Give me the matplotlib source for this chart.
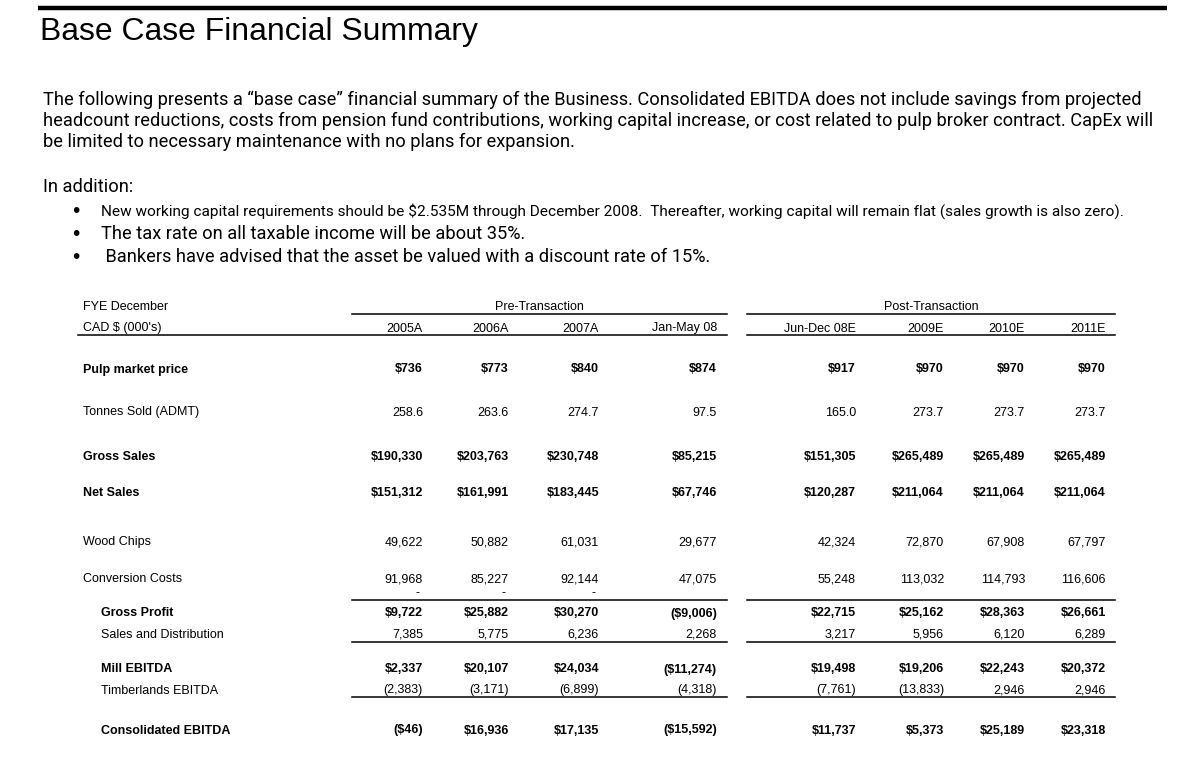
import matplotlib
matplotlib.use("Agg")
import matplotlib.pyplot as plt

# ---------------- data ----------------
title = "Base Case Financial Summary"
para_lines = [
    "The following presents a \u201cbase case\u201d financial summary of the Business. Consolidated EBITDA does not include savings from projected",
    "headcount reductions, costs from pension fund contributions, working capital increase, or cost related to pulp broker contract. CapEx will",
    "be limited to necessary maintenance with no plans for expansion.",
]
intro = "In addition:"
bullets = [
    "New working capital requirements should be $2.535M through December 2008.  Thereafter, working capital will remain flat (sales growth is also zero).",
    "The tax rate on all taxable income will be about 35%.",
    " Bankers have advised that the asset be valued with a discount rate of 15%.",
]
header_left = ["FYE December", "CAD $ (000's)"]
groups = ["Pre-Transaction", "Post-Transaction"]
columns = ["2005A", "2006A", "2007A", "Jan-May 08", "Jun-Dec 08E", "2009E", "2010E", "2011E"]

pulp_price = [736, 773, 840, 874, 917, 970, 970, 970]
tonnes = [258.6, 263.6, 274.7, 97.5, 165.0, 273.7, 273.7, 273.7]
gross_sales = [190330, 203763, 230748, 85215, 151305, 265489, 265489, 265489]
net_sales = [151312, 161991, 183445, 67746, 120287, 211064, 211064, 211064]
wood_chips = [49622, 50882, 61031, 29677, 42324, 72870, 67908, 67797]
conversion = [91968, 85227, 92144, 47075, 55248, 113032, 114793, 116606]
zero_marks = ["-", "-", "-", "", "", "", "", ""]
gross_profit = [9722, 25882, 30270, -9006, 22715, 25162, 28363, 26661]
sales_dist = [7385, 5775, 6236, 2268, 3217, 5956, 6120, 6289]
mill_ebitda = [2337, 20107, 24034, -11274, 19498, 19206, 22243, 20372]
timber_ebitda = [-2383, -3171, -6899, -4318, -7761, -13833, 2946, 2946]
consol_ebitda = [-46, 16936, 17135, -15592, 11737, 5373, 25189, 23318]


def cur(v):
    return f"(${-v:,.0f})" if v < 0 else f"${v:,.0f}"


def num(v):
    return f"({-v:,.0f})" if v < 0 else f"{v:,.0f}"


def dec(v):
    return f"{v:.1f}"


# (label, values, formatter, bold, indent, baseline y)
rows = [
    ("Pulp market price", pulp_price, cur, True, False, 372.5),
    ("Tonnes Sold (ADMT)", tonnes, dec, False, False, 415.5),
    ("Gross Sales", gross_sales, cur, True, False, 459.5),
    ("Net Sales", net_sales, cur, True, False, 495.5),
    ("Wood Chips", wood_chips, num, False, False, 545.5),
    ("Conversion Costs", conversion, num, False, False, 582.5),
    ("Gross Profit", gross_profit, cur, True, True, 616.5),
    ("Sales and Distribution", sales_dist, num, False, True, 637.5),
    ("Mill EBITDA", mill_ebitda, cur, True, True, 672.5),
    ("Timberlands EBITDA", timber_ebitda, num, False, True, 693.5),
    ("Consolidated EBITDA", consol_ebitda, cur, True, True, 733.5),
]

# ---------------- layout ----------------
col_right = [423, 509, 599, 717, 856, 944, 1025, 1106]
pre_span = (352, 727)
post_span = (747, 1115)

fig = plt.figure(figsize=(11.9, 7.6), dpi=100)
ax = fig.add_axes([0, 0, 1, 1])
ax.set_xlim(0, 1190)
ax.set_ylim(760, 0)
ax.axis("off")
renderer = fig.canvas.get_renderer()

BODY = ["Roboto", "DejaVu Sans"]
TAB = ["Liberation Sans", "DejaVu Sans"]


def fit(x, y, s, target_w, size0, **kw):
    t = ax.text(x, y, s, fontsize=size0, **kw)
    w = t.get_window_extent(renderer).width
    t.set_fontsize(size0 * target_w / w)
    return t.get_fontsize()


# top rule
ax.plot([38, 1167], [8, 8], color="black", lw=3.2, solid_capstyle="butt")

# title
fit(40, 40, title, 437, 21, family=TAB, va="baseline", ha="left", color="black")

# paragraph
ps = fit(43, 105, para_lines[0], 1091, 12, family=BODY, va="baseline", ha="left")
for i, line in enumerate(para_lines[1:]):
    ax.text(43, 126 + 21 * i, line, fontsize=ps, family=BODY, va="baseline", ha="left")
ax.text(43, 192, intro, fontsize=ps, family=BODY, va="baseline", ha="left")

# bullets
bys = [216, 239, 262]
for i, (b, by) in enumerate(zip(bullets, bys)):
    ax.text(72, by + 1, "\u2022", fontsize=15, family=TAB, va="baseline", ha="left")
    if i == 0:
        fit(101, by, b, 1019, 10, family=BODY, va="baseline", ha="left")
    else:
        ax.text(101, by, b, fontsize=ps, family=BODY, va="baseline", ha="left")

# table header
FS = 9
ax.text(83, 310.5, header_left[0], fontsize=FS, family=TAB, va="baseline", ha="left")
ax.text(83, 331.5, header_left[1], fontsize=FS, family=TAB, va="baseline", ha="left")
for g, (a, b) in zip(groups, [pre_span, post_span]):
    ax.text((a + b) / 2, 310.5, g, fontsize=FS, family=TAB, va="baseline", ha="center")
    ax.plot([a, b], [313.5, 313.5], color="black", lw=1.1)
for c, xr in zip(columns, col_right):
    ax.text(xr, 331.5, c, fontsize=FS, family=TAB, va="baseline", ha="right")
ax.plot([78, pre_span[1]], [335, 335], color="black", lw=1.1)
ax.plot([post_span[0], post_span[1]], [335, 335], color="black", lw=1.1)

# rows
for label, vals, f, bold, indent, yb in rows:
    w = "bold" if bold else "normal"
    ax.text(101 if indent else 83, yb, label, fontsize=FS, family=TAB, weight=w,
            va="baseline", ha="left")
    for v, xr in zip(vals, col_right):
        ax.text(xr, yb, f(v), fontsize=FS, family=TAB, weight=w, va="baseline", ha="right")

# zero marks row
for m, xr in zip(zero_marks, col_right):
    if m:
        ax.text(xr - 3, 596.5, m, fontsize=FS, family=TAB, va="baseline", ha="right")

# rules between sections
for yl in [599.5, 642, 696.5]:
    ax.plot([pre_span[0], pre_span[1]], [yl, yl], color="black", lw=1.1)
    ax.plot([post_span[0], post_span[1]], [yl, yl], color="black", lw=1.1)

fig.savefig("out.png", dpi=100, facecolor="white")
